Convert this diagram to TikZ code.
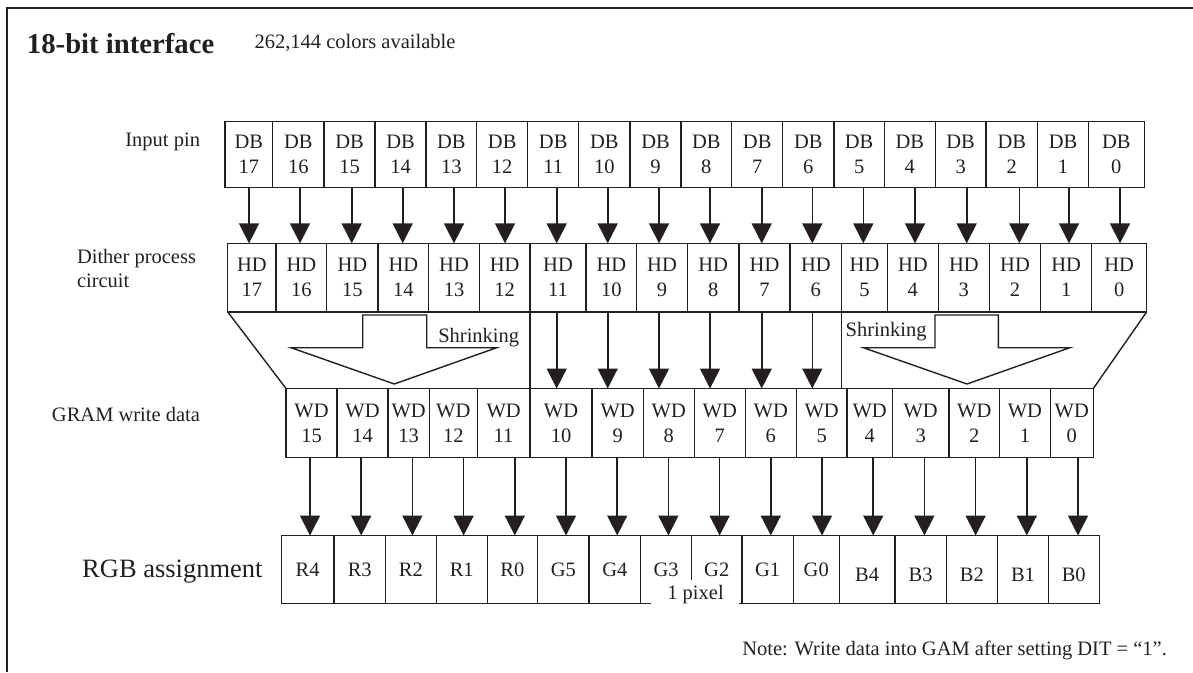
\documentclass[tikz,border=0pt]{standalone}
\usepackage{fontspec}
\setmainfont{Liberation Serif}
\usetikzlibrary{arrows.meta,calc}
\definecolor{ink}{HTML}{231F20}
\begin{document}
\begin{tikzpicture}[x=1pt,y=-1pt,
  every node/.style={text=ink},
  cell/.style={draw=ink, line width=1.4pt, inner sep=0pt, outer sep=0pt, align=center, font=\fontsize{20.5}{25}\selectfont},
  blank/.style={inner sep=0pt, outer sep=0pt},
  txt/.style={inner sep=0pt, outer sep=0pt, font=\fontsize{20.5}{24}\selectfont},
  arr/.style={draw=ink, line width=1.6pt, -{Triangle[width=20pt,length=20pt]}},
  ln/.style={draw=ink, line width=1.4pt}]
\useasboundingbox (0,0) rectangle (1193,672);
% frame
\draw[ink, line width=2.3pt] (7.3,672) -- (7.3,8.2) -- (1193,8.2);
% titles
\node[inner sep=0pt, anchor=base west, font=\fontsize{28.7}{30}\selectfont\bfseries] (title) at (26.8,53.3) {18-bit interface};
\node[txt, anchor=base west] (colors) at (254.5,48.3) {262,144 colors available};
% row labels
\node[txt, anchor=base east] (lin) at (200,146.5) {Input pin};
\node[txt, anchor=base west, align=left] (ldith) at (77,263.3) {Dither process};
\node[txt, anchor=base west] (ldith2) at (77,287.3) {circuit};
\node[txt, anchor=base east] (lgram) at (200,421.7) {GRAM write data};
\node[inner sep=0pt, anchor=base west, font=\fontsize{26.5}{28}\selectfont] (lrgb) at (82,577) {RGB assignment};
% DB row
\foreach \l/\r/\t in {225/272.7/17,272.7/324/16,324/375/15,375/426/14,426/476.7/13,476.7/527.7/12,527.7/578.7/11,578.7/630/10,630/681/9,681/731.7/8,731.7/782.7/7,782.7/834/6,834/884.3/5,884.3/935.3/4,935.3/986/3,986/1037.7/2,1037.7/1088.3/1,1088.3/1144.3/0}
  \node[cell, minimum width={(\r-\l)*1pt}, minimum height=65.6pt] (db\t) at ({(\l+\r)/2},154.5) {DB\\\t};
% HD row
\foreach \l/\r/\t in {227.7/276/17,276/326.7/16,326.7/378/15,378/428.7/14,428.7/479.3/13,479.3/530/12,530/586/11,586/636.7/10,636.7/687.3/9,687.3/739/8,739/790/7,790/841.7/6,841.7/887.3/5,887.3/938.3/4,938.3/989.3/3,989.3/1040.7/2,1040.7/1091.7/1,1091.7/1146.7/0}
  \node[cell, minimum width={(\r-\l)*1pt}, minimum height=68.5pt] (hd\t) at ({(\l+\r)/2},277.6) {HD\\\t};
% WD row
\foreach \l/\r/\t in {286/337/15,337/388/14,388/429.4/13,429.4/477.2/12,477.2/530/11,530/592/10,592/643.3/9,643.3/694.3/8,694.3/745.3/7,745.3/796.3/6,796.3/847/5,847/892.3/4,892.3/949/3,949/999.5/2,999.5/1050.3/1,1050.3/1093.3/0}
  \node[cell, minimum width={(\r-\l)*1pt}, minimum height=69pt] (wd\t) at ({(\l+\r)/2},423) {WD\\\t};
% arrow x positions
\foreach \t/\ax in {17/249,16/300,15/351.7,14/402.7,13/454,12/505,11/556.7,10/607.7,9/659,8/710,7/761.7,6/812.3,5/863.3,4/915,3/966.7,2/1019.3,1/1069,0/1120}
  \coordinate (ax\t) at (\ax,0);
% DB -> HD arrows
\foreach \t in {17,16,...,0}
  \draw[arr] (db\t.south -| ax\t) -- (hd\t.north -| ax\t);
% HD -> WD arrows
\foreach \t/\w in {11/10,10/9,9/8,8/7,7/6,6/5}
  \draw[arr] (hd\t.south -| ax\t) -- (wd\w.north -| ax\t);
% shrinking region
\draw[ln] (hd17.south west) -- (wd15.north west);
\draw[ln] (hd0.south east) -- (wd0.north east);
\draw[ln] (hd11.south west) -- (wd10.north west);
\draw[ln] (hd5.south west) -- (hd5.south west |- wd4.north);
\draw[ln, line join=miter] (362.7,315) -- (426.7,315) -- (426.7,347.7) -- (496.7,347.7) -- (394.3,384) -- (291,347.7) -- (362.7,347.7) -- cycle;
\draw[ln, line join=miter] (935,315) -- (998.3,315) -- (998.3,347.7) -- (1069.8,347.7) -- (967,384) -- (863.4,347.7) -- (935,347.7) -- cycle;
\node[txt, anchor=base west] (shr1) at (438.3,342.7) {Shrinking};
\node[txt, anchor=base west] (shr2) at (845.7,336.7) {Shrinking};
% RGB row
\foreach \l/\r/\t in {281.3/334.1/R4,334.1/385.4/R3,385.4/436.3/R2,436.3/487.2/R1,487.2/537.7/R0,537.7/589/G5,589/640.7/G4,742/793.2/G1,793.2/839.3/G0,839.3/895/B4,895/946.2/B3,946.2/997.6/B2,997.6/1048.3/B1,1048.3/1099.2/B0}
  \node[cell, minimum width={(\r-\l)*1pt}, minimum height=67.8pt] (rgb\t) at ({(\l+\r)/2},569.4) {};
\foreach \l/\r/\t in {640.7/691.5/G3,691.5/742/G2}
  \node[blank, minimum width={(\r-\l)*1pt}, minimum height=67.8pt] (rgb\t) at ({(\l+\r)/2},569.4) {};
\draw[ln] (rgbG3.north west) -- (rgbG2.north east);
\draw[ln] (rgbG3.north east) -- ($(rgbG3.north east)+(0,44.5)$);
\draw[ln] (rgbG3.south west) -- ++(10,0);
\draw[ln] (rgbG2.south east) -- ++(-2.7,0);
\foreach \t in {R4,R3,R2,R1,R0,G5,G4,G3,G2,G1,G0}
  \node[txt] at (rgb\t.center) {\t};
\foreach \t in {B4,B3,B2,B1,B0}
  \node[txt, yshift=-5pt] at (rgb\t.center) {\t};
\node[txt, anchor=base] (pix) at (695.5,599.3) {1 pixel};
% WD -> RGB arrows
\foreach \w/\t/\ax in {15/R4/310,14/R3/361.2,13/R2/412.4,12/R1/463.6,11/R0/514.8,10/G5/566,9/G4/617.2,8/G3/668.4,7/G2/719.6,6/G1/770.8,5/G0/822,4/B4/873.2,3/B3/924.4,2/B2/975.6,1/B1/1026.8,0/B0/1078}
  {\coordinate (bx\t) at (\ax,0);
   \draw[arr] (wd\w.south -| bx\t) -- (rgb\t.north -| bx\t);}
% note
\node[txt, anchor=base west] (note) at (742.3,655) {Note: Write data into GAM after setting DIT = “1”.};
\end{tikzpicture}
\end{document}
